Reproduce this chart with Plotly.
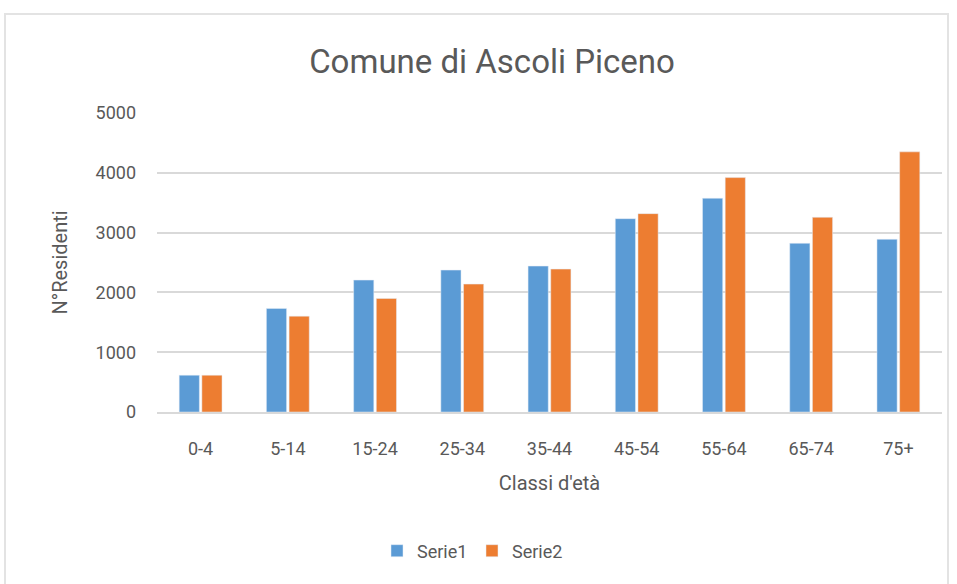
import plotly.graph_objects as go

# Popolazione residente per classi d'età
classi = ["0-4", "5-14", "15-24", "25-34", "35-44", "45-54", "55-64", "65-74", "75+"]
serie1 = [615, 1732, 2206, 2373, 2440, 3233, 3574, 2821, 2888]
serie2 = [615, 1603, 1899, 2139, 2390, 3317, 3920, 3256, 4350]
y_ticks = [0, 1000, 2000, 3000, 4000, 5000]

FONT = "Roboto, sans-serif"
GREY_TEXT = "#595959"
GRID = "#D9D9D9"

W, H = 957, 584
L, R, T, B = 157, 15, 113, 172
plot_w = W - L - R
plot_h = H - T - B


def px_x(p):
    return (p - L) / plot_w


def px_y(p):
    return (H - B - p) / plot_h


fig = go.Figure()
fig.add_trace(go.Bar(x=classi, y=serie1, name="Serie1", marker_color="#5B9BD5"))
fig.add_trace(go.Bar(x=classi, y=serie2, name="Serie2", marker_color="#ED7D31"))

fig.update_layout(
    width=W,
    height=H,
    margin=dict(l=L, r=R, t=T, b=B),
    paper_bgcolor="white",
    plot_bgcolor="white",
    barmode="group",
    bargap=0.48,
    bargroupgap=0.11,
    font=dict(family=FONT, color=GREY_TEXT, size=18),
    title=dict(
        text="Comune di Ascoli Piceno",
        x=492 / W,
        xanchor="center",
        y=1 - 61 / H,
        yanchor="middle",
        font=dict(size=33, color=GREY_TEXT, family=FONT),
    ),
    legend=dict(
        orientation="h",
        x=px_x(472),
        xanchor="center",
        y=px_y(551),
        yanchor="middle",
        font=dict(size=18, color=GREY_TEXT),
        itemwidth=30,
        entrywidth=50,
        entrywidthmode="pixels",
        tracegroupgap=0,
    ),
    showlegend=True,
)

fig.update_xaxes(
    showgrid=False,
    showline=True,
    linecolor=GRID,
    linewidth=1.5,
    ticks="",
    ticklabelstandoff=20,
    tickfont=dict(size=18, color=GREY_TEXT),
    title=dict(text="Classi d'età", font=dict(size=20, color=GREY_TEXT), standoff=18),
)
fig.update_yaxes(
    range=[0, 5000],
    tickvals=y_ticks,
    showgrid=True,
    gridcolor=GRID,
    gridwidth=1.5,
    zeroline=False,
    showline=False,
    ticks="",
    ticklabelstandoff=20,
    tickfont=dict(size=18, color=GREY_TEXT),
    title=dict(text="N°Residenti", font=dict(size=20, color=GREY_TEXT), standoff=22),
)

# light frame around the chart area
fig.add_shape(
    type="rect",
    xref="paper",
    yref="paper",
    x0=px_x(5),
    x1=px_x(948),
    y0=px_y(600),
    y1=px_y(14),
    line=dict(color="#E3E3E3", width=2),
    fillcolor="rgba(0,0,0,0)",
    layer="below",
)

fig.write_html("out.html")
